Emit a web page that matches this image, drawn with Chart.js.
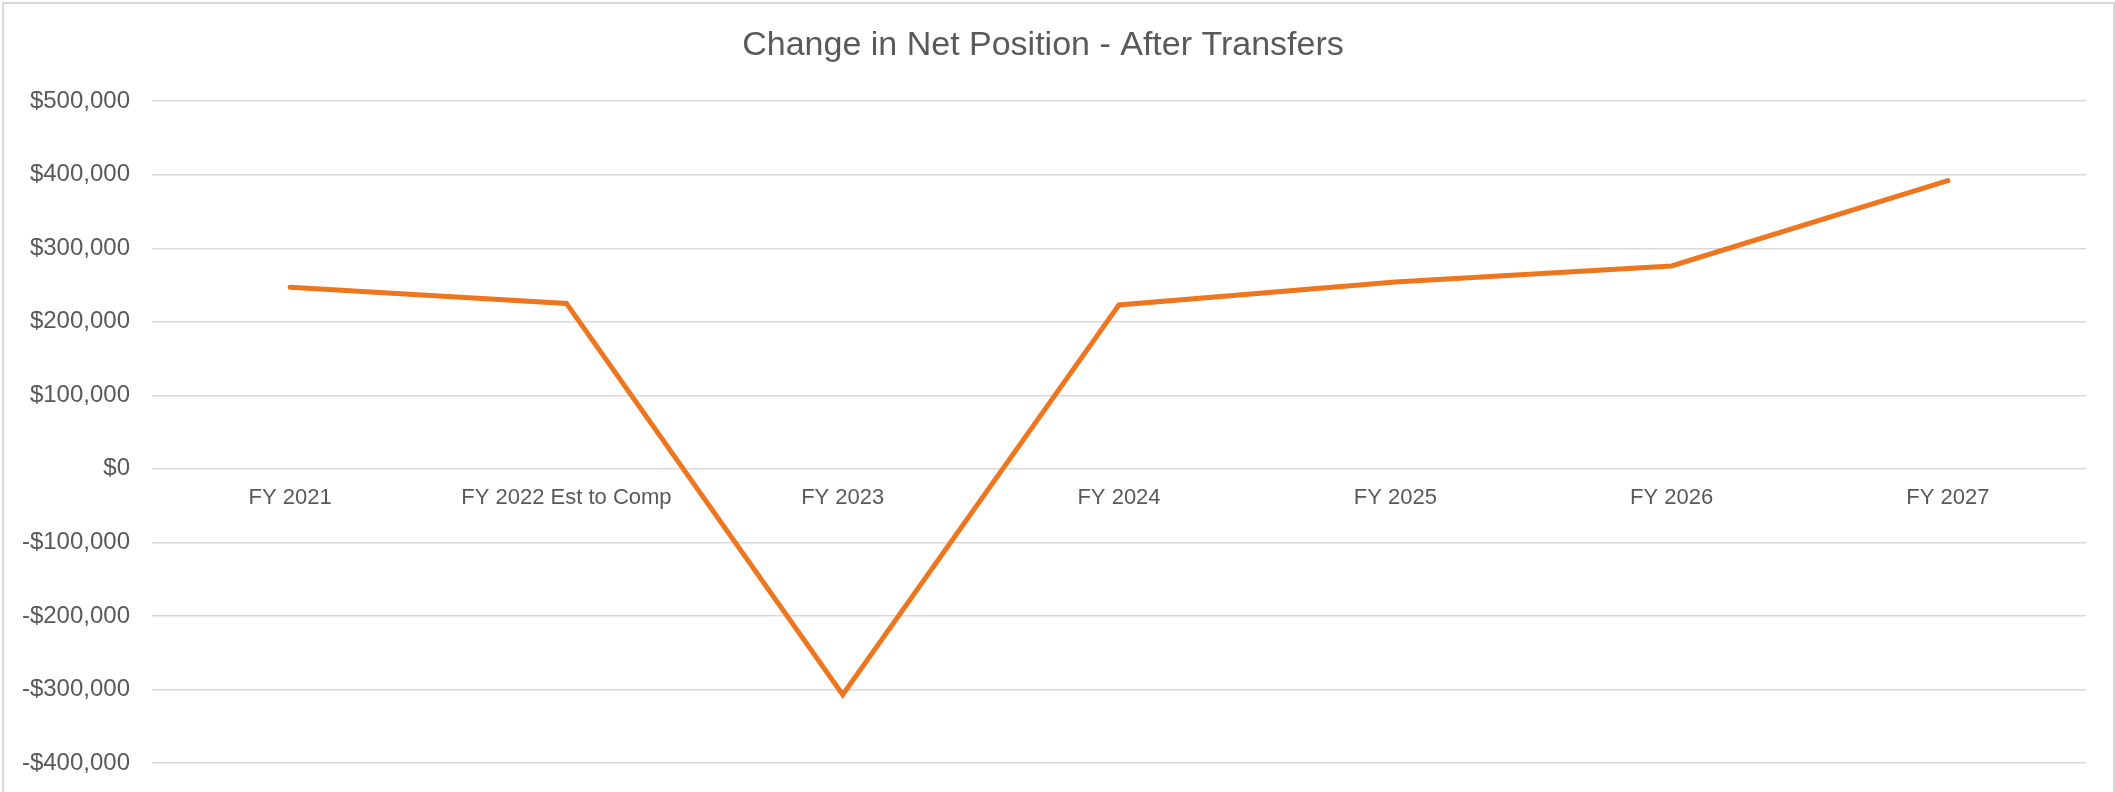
<!DOCTYPE html>
<html>
<head>
<meta charset="utf-8">
<title>Change in Net Position - After Transfers</title>
<script src="https://cdn.jsdelivr.net/npm/chart.js@4.4.0/dist/chart.umd.min.js"></script>
<style>
	body { margin: 0; background: #ffffff; }
	#wrap { position: relative; width: 2115px; height: 792px; overflow: hidden; }
	#frame {
		position: absolute; left: 2px; top: 2px; width: 2109px; height: 800px;
		border: 2px solid #d9d9d9; pointer-events: none;
	}
</style>
</head>
<body>
<div id="wrap">
	<canvas id="myChart" width="2115" height="792"></canvas>
	<div id="frame"></div>
</div>
<script>
// categories along the bottom
const years = ['FY 2021', 'FY 2022 Est to Comp', 'FY 2023', 'FY 2024', 'FY 2025', 'FY 2026', 'FY 2027'];

// change in net position after transfers
const netPosition = [247000, 225000, -307000, 223000, 254000, 276000, 392000];

// y axis ticks
const yTicks = [500000, 400000, 300000, 200000, 100000, 0, -100000, -200000, -300000, -400000];

const textColor = '#595959';
const gridColor = '#d9d9d9';

function money(v) {
	let s = '$' + Math.abs(v).toLocaleString('en-US');
	return v < 0 ? '-' + s : s;
}

const myChart = document.getElementById('myChart');

let lineChart = new Chart(myChart, {
	type: 'line',
	data: {
		labels: years,
		datasets: [{
			label: 'Change in Net Position',
			data: netPosition,
			borderColor: '#ee761f',
			borderWidth: 5,
			borderCapStyle: 'round',
			borderJoinStyle: 'miter',
			pointRadius: 0,
			tension: 0
		}]
	},
	options: {
		responsive: false,
		animation: false,
		layout: {
			padding: { top: 10, right: 29, bottom: 29, left: 0 }
		},
		plugins: {
			legend: { display: false },
			tooltip: { enabled: false },
			title: {
				display: true,
				text: 'Change in Net Position - After Transfers',
				color: textColor,
				font: { family: '"Liberation Sans", Arial, sans-serif', size: 34, weight: 'normal', lineHeight: 1.2 },
				padding: { top: 15.6, bottom: 34.8 }
			}
		},
		scales: {
			x: {
				offset: true,
				// labels sit just under the zero line, like the original
				position: { y: 0 },
				// the axis floats inside the plot, so it should not take room at the bottom
				afterFit: function(scale) { scale.height = 0; },
				grid: { display: false, drawTicks: false },
				border: { display: false },
				ticks: {
					color: textColor,
					font: { family: '"Liberation Sans", Arial, sans-serif', size: 22 },
					padding: 16,
					autoSkip: false,
					maxRotation: 0
				}
			},
			y: {
				min: -400000,
				max: 500000,
				afterFit: function(scale) {
					scale.width = 152;
					// tick padding otherwise gets added above and below the plot
					scale.paddingTop = 0;
					scale.paddingBottom = 0;
				},
				afterBuildTicks: function(scale) {
					scale.ticks = yTicks.map(v => ({ value: v }));
				},
				grid: { color: gridColor, lineWidth: 1.5, drawTicks: false },
				border: { display: false },
				ticks: {
					color: textColor,
					font: { family: '"Liberation Sans", Arial, sans-serif', size: 24 },
					padding: 22,
					callback: v => money(v)
				}
			}
		}
	}
});
</script>
</body>
</html>
